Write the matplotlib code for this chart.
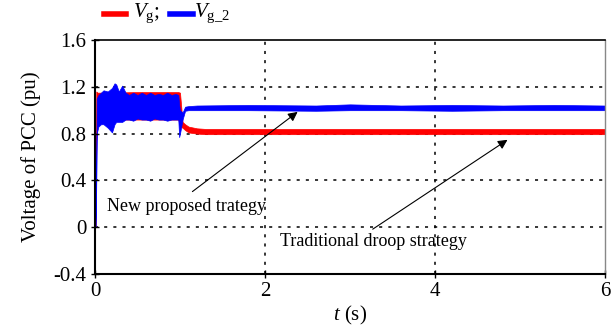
import matplotlib
matplotlib.use("Agg")
import matplotlib.pyplot as plt

plt.rcParams['font.family'] = ['Liberation Serif', 'DejaVu Serif']
plt.rcParams['mathtext.fontset'] = 'custom'
plt.rcParams['mathtext.rm'] = 'Liberation Serif'
plt.rcParams['mathtext.it'] = 'Liberation Serif:italic'

# envelope of V_g_2 (new strategy), upper/lower edge of the band
t_vg2 = [0, 0.008, 0.012, 0.02, 0.04, 0.07, 0.1, 0.15, 0.2, 0.23, 0.25, 0.28, 0.32, 0.36,
         0.4, 0.45, 0.5, 0.55, 0.6, 0.65, 0.7, 0.75, 0.8, 0.85, 0.9, 0.95, 0.98, 0.99, 1.0,
         1.03, 1.06, 1.1, 1.2, 1.8, 2.6, 3.0, 3.6, 4.2, 4.8, 5.4, 6.0]
vg2_hi = [0, 0.17, 0.17, 1.10, 1.13, 1.15, 1.17, 1.16, 1.19, 1.23, 1.22, 1.16, 1.21, 1.15,
          1.13, 1.15, 1.13, 1.15, 1.13, 1.15, 1.13, 1.14, 1.13, 1.15, 1.13, 1.14, 1.13, 1.05, 1.0,
          0.98, 1.03, 1.035, 1.04, 1.045, 1.04, 1.05, 1.04, 1.045, 1.04, 1.045, 1.04]
vg2_lo = [0, 0, 0.17, 0.80, 0.86, 0.88, 0.88, 0.85, 0.81, 0.88, 0.90, 0.90, 0.90, 0.92,
          0.92, 0.91, 0.93, 0.92, 0.92, 0.91, 0.93, 0.92, 0.92, 0.91, 0.92, 0.92, 0.92, 0.77, 0.80,
          0.92, 0.995, 1.0, 1.0, 1.0, 0.995, 1.0, 1.0, 0.995, 1.0, 1.0, 1.0]

# envelope of V_g (traditional droop)
t_vg = [0, 0.008, 0.015, 0.03, 0.1, 0.5, 0.98, 1.0, 1.03, 1.06, 1.1, 1.2, 1.3, 6.0]
vg_hi = [0, 0.17, 1.16, 1.15, 1.15, 1.155, 1.155, 1.15, 0.90, 0.88, 0.86, 0.845, 0.84, 0.84]
vg_lo = [0, 0, 0.74, 0.90, 0.92, 0.92, 0.92, 0.86, 0.85, 0.83, 0.81, 0.80, 0.795, 0.795]

xticks = [0, 2, 4, 6]
yticks = [-0.4, 0, 0.4, 0.8, 1.2, 1.6]
yticklabels = ['-0.4', '0', '0.4', '0.8', '1.2', '1.6']

fig = plt.figure(figsize=(6.11, 3.29), dpi=100)
ax = fig.add_axes([95 / 611, 1 - 274 / 329, 510 / 611, 234 / 329])

ax.fill_between(t_vg, vg_lo, vg_hi, color='#ff0000', lw=0.5, edgecolor='#ff0000')
ax.fill_between(t_vg2, vg2_lo, vg2_hi, color='#0000ff', lw=0.5, edgecolor='#0000ff')

ax.set_xlim(0, 6)
ax.set_ylim(-0.4, 1.6)
ax.set_xticks(xticks)
ax.set_yticks(yticks)
ax.set_yticklabels(yticklabels)
ax.tick_params(direction='inout', length=6, width=1, labelsize=15, pad=3)

for v in [0, 0.4, 0.8, 1.2]:
    ax.axhline(v, color='black', lw=1.1, ls=(0, (2, 4)), zorder=0)
for v in [2, 4]:
    ax.axvline(v, color='black', lw=1.1, ls=(0, (2, 4)), zorder=0)

ax.spines['left'].set_linewidth(1.5)
ax.spines['bottom'].set_linewidth(1.5)
ax.spines['top'].set_linewidth(1.2)
ax.spines['right'].set_linewidth(1.0)
ax.spines['right'].set_color('#888888')

ax.set_xlabel('$t$ (s)', fontsize=15, labelpad=2)
ax.set_ylabel('Voltage of PCC (pu)', fontsize=15, labelpad=9)

ax.annotate('', xy=(2.41, 1.0), xytext=(1.12, 0.29),
            arrowprops=dict(arrowstyle='-|>', color='black', lw=0.8, mutation_scale=14))
ax.text(1.08, 0.18, 'New proposed trategy', fontsize=13, ha='center', va='center')
ax.annotate('', xy=(4.88, 0.76), xytext=(3.24, -0.03),
            arrowprops=dict(arrowstyle='-|>', color='black', lw=0.8, mutation_scale=14))
ax.text(3.27, -0.12, 'Traditional droop strategy', fontsize=13, ha='center', va='center')

# legend drawn above the axes
ly = 1 - 13.5 / 329
fig.add_artist(plt.Line2D([104 / 611, 126 / 611], [ly, ly], color='#ff0000', lw=4))
fig.text(133 / 611, ly, '$V_{\\mathrm{g}}$;', fontsize=15, va='center')
fig.add_artist(plt.Line2D([170 / 611, 193 / 611], [ly, ly], color='#0000ff', lw=4))
fig.text(194 / 611, ly, '$V_{\\mathrm{g\\_2}}$', fontsize=15, va='center')

fig.savefig('out.png', dpi=100)
